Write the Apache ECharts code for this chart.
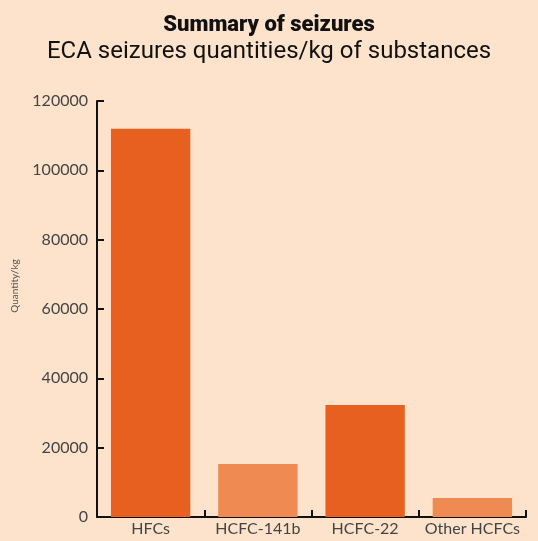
<!DOCTYPE html>
<html>
<head>
<meta charset="utf-8">
<script src="https://cdn.jsdelivr.net/npm/echarts@6/dist/echarts.min.js"></script>
<style>
  html, body { margin: 0; padding: 0; background: #fde3cb; }
  #main { width: 538px; height: 541px; }
</style>
</head>
<body>
<div id="main"></div>
<script>
// data
var categories = ['HFCs', 'HCFC-141b', 'HCFC-22', 'Other HCFCs'];
var quantities = [112000, 15300, 32300, 5500];
var yTicks = [0, 20000, 40000, 60000, 80000, 100000, 120000];

var barColors = ['#e8601f', '#ef8a52', '#e8601f', '#ef8a52'];

var myChart = echarts.init(document.getElementById('main'));

var option = {
    backgroundColor: '#fde3cb',
    title: [{
        text: 'Summary of seizures',
        left: 'center',
        top: 9,
        textStyle: { fontFamily: 'Roboto', fontSize: 22, fontWeight: 900, color: '#111' }
    }, {
        text: 'ECA seizures quantities/kg of substances',
        left: 'center',
        top: 35,
        textStyle: { fontFamily: 'Roboto', fontSize: 24, fontWeight: 'normal', color: '#111' }
    }],
    graphic: [{
        type: 'text',
        x: 15,
        y: 286,
        rotation: Math.PI / 2,
        style: {
            text: 'Quantity/kg',
            fontFamily: 'Lato',
            fontSize: 10,
            fill: '#555',
            align: 'center',
            verticalAlign: 'middle'
        }
    }],
    grid: { left: 97, right: 12, top: 101, bottom: 24 },
    xAxis: {
        type: 'category',
        data: categories,
        axisLine: { lineStyle: { color: '#111', width: 2 } },
        axisTick: { show: true, inside: true, interval: 0, length: 7, lineStyle: { color: '#111', width: 2 } },
        axisLabel: { interval: 0, fontFamily: 'Lato', fontSize: 16, color: '#444', margin: 4 }
    },
    yAxis: {
        type: 'value',
        min: yTicks[0],
        max: yTicks[yTicks.length - 1],
        interval: 20000,
        axisLine: { show: true, lineStyle: { color: '#111', width: 2 } },
        axisTick: { show: true, inside: true, length: 7, lineStyle: { color: '#111', width: 2 } },
        axisLabel: {
            fontFamily: 'Lato', fontSize: 16, color: '#444', margin: 9,
            formatter: function (v) { return String(v); }
        },
        splitLine: { show: false }
    },
    series: [{
        type: 'bar',
        barWidth: '74%',
        data: quantities.map(function (v, i) {
            return { value: v, itemStyle: { color: barColors[i] } };
        })
    }]
};

myChart.setOption(option);
</script>
</body>
</html>
